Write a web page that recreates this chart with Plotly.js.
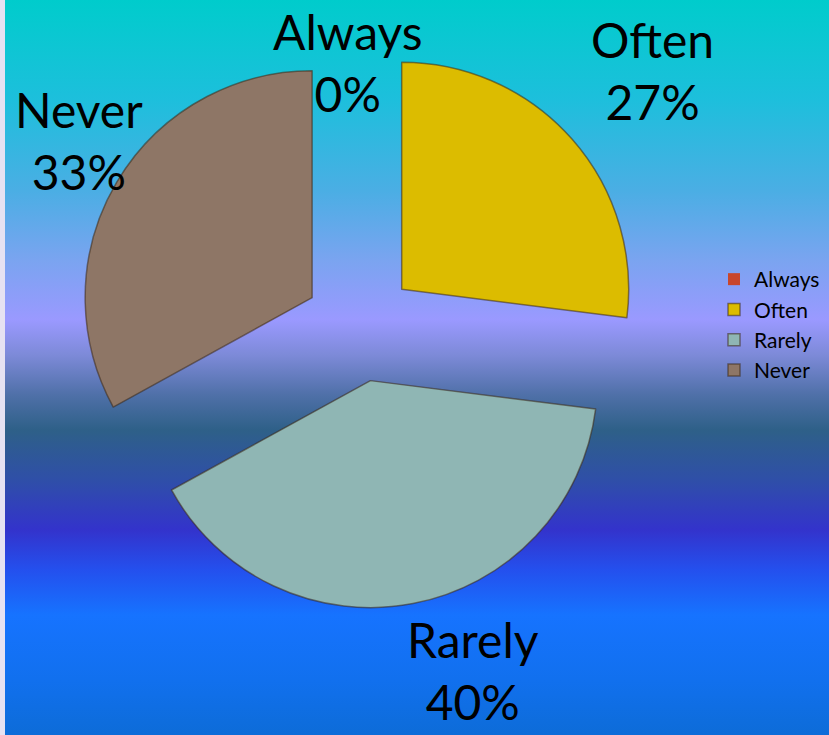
<!DOCTYPE html>
<html>
<head>
<meta charset="utf-8">
<script src="https://cdn.plot.ly/plotly-3.0.1.min.js"></script>
<style>
  html, body { margin: 0; padding: 0; }
  body { width: 829px; height: 735px; overflow: hidden; position: relative;
         background: #e6e2f2; }
  #bg { position: absolute; left: 5px; top: 0; width: 824px; height: 735px;
        background: linear-gradient(to bottom,
          #00cccc 0px, #1dbfdc 100px, #4aaee4 190px, #7aa4f0 260px,
          #9a99ff 320px, #7d8ad8 355px, #4f70a8 395px, #2e6088 430px,
          #2f4fa8 480px, #3333cc 530px, #2450ee 570px, #1673ff 615px,
          #1170ee 680px, #0d6cd8 735px); }
  #chart { position: absolute; left: 0; top: 0; width: 829px; height: 735px; }
</style>
</head>
<body>
<div id="bg"></div>
<div id="chart"></div>
<script>
const categories = ["Always", "Often", "Rarely", "Never"];
const values = [0, 27, 40, 33];
const percentLabels = ["0%", "27%", "40%", "33%"];
const sliceColors = ["#c8462c", "#dcbc00", "#8fb6b4", "#8e7666"];

const labelFont = {family: "Lato, 'Open Sans', sans-serif", size: 48, color: "#000"};
const labelPos = [
  {x: 348, y: 62},
  {x: 652, y: 70},
  {x: 473, y: 670},
  {x: 79, y: 140}
];

const W = 829, H = 735;
const annotations = categories.map((c, i) => ({
  text: c + "<br>" + percentLabels[i],
  x: labelPos[i].x / W,
  y: 1 - labelPos[i].y / H,
  xref: "paper", yref: "paper",
  xanchor: "center", yanchor: "middle",
  showarrow: false,
  font: labelFont
}));

const trace = {
  type: "pie",
  labels: categories,
  values: values,
  sort: false,
  direction: "clockwise",
  rotation: 0,
  pull: [0.245, 0.245, 0.245, 0.245],
  textinfo: "none",
  hoverinfo: "label+percent",
  marker: {colors: sliceColors, line: {color: "rgba(60,40,20,0.55)", width: [0, 1.5, 1.5, 1.5]}},
  domain: {x: [77.4 / W, 642.6 / W], y: [1 - 608.6 / H, 1 - 43.4 / H]}
};

const layout = {
  width: W, height: H,
  margin: {l: 0, r: 0, t: 0, b: 0},
  paper_bgcolor: "rgba(0,0,0,0)",
  plot_bgcolor: "rgba(0,0,0,0)",
  showlegend: true,
  legend: {
    x: 714 / W, y: 1 - 325 / H, xanchor: "left", yanchor: "middle",
    font: {family: "Lato, 'Open Sans', sans-serif", size: 21, color: "#000"},
    bgcolor: "rgba(0,0,0,0)",
    itemwidth: 30
  },
  annotations: annotations
};

Plotly.newPlot("chart", [trace], layout, {displayModeBar: false, staticPlot: true});
</script>
</body>
</html>
